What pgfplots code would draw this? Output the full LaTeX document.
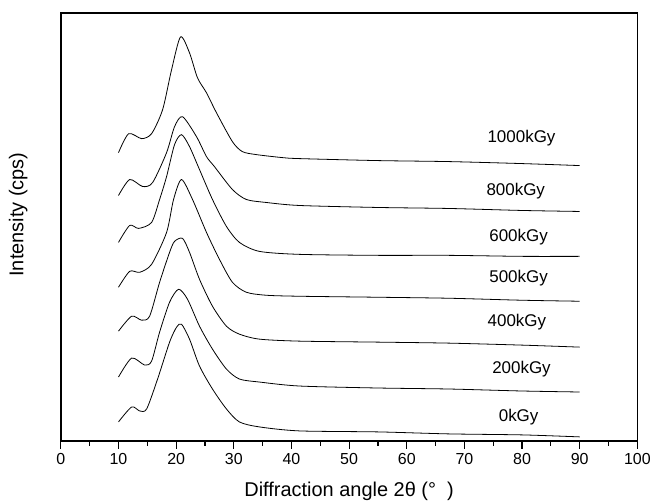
\documentclass[border=0pt]{standalone}
\usepackage{pgfplots}
\pgfplotsset{compat=1.18}
\usepackage{fontspec}
\setmainfont{Liberation Sans}
\begin{document}
\begin{tikzpicture}
\useasboundingbox (-45.75pt,-46.5pt) rectangle (443pt,331.5pt);
\begin{axis}[
  scale only axis,
  width=433.5pt, height=321.75pt,
  xmin=0, xmax=100, ymin=0, ymax=429,
  xtick={0,10,...,100},
  minor xtick={5,15,...,95},
  ytick=\empty,
  xtick pos=bottom,
  tick align=outside,
  major tick length=6pt,
  minor tick length=3.5pt,
  every tick/.style={black, line width=0.9pt},
  axis line style={line width=1.1pt},
  /pgf/number format/assume math mode=true,
  tick label style={font=\fontsize{12}{14}\selectfont},
  xlabel={Diffraction angle 2θ (°\ \ )},
  ylabel={Intensity (cps)},
  label style={font=\fontsize{15}{18}\selectfont},
  x label style={at={(axis description cs:0.5,0)}, anchor=center, yshift=-38pt},
  y label style={at={(axis description cs:-0.074,0.529)}, anchor=center, rotate=0},
  cycle list={{black, solid, no markers}},
  every axis plot/.append style={line width=0.6pt, smooth, tension=0.45},
]
% 1000 kGy
\addplot coordinates {(10,289)(11.76,308)(14.01,303)(15.74,308)(17.65,332)(19.20,372)(20.76,405)(22.32,389)(23.70,364)(25.26,349)(26.99,329)(29.76,300)(31.49,290)(33.91,287)(38.41,284)(41.35,283)(55,281)(67.3,280)(80,278)(90,276)};
% 800 kGy
\addplot coordinates {(10,246)(11.94,262)(14.19,255)(15.92,259)(18.34,289)(19.72,315)(21.11,325)(23.53,305)(25.26,285)(26.64,275)(29.76,252)(32.18,242)(35.64,239)(41.35,236)(55,234)(67.3,233)(80,231)(90,230)};
% 600 kGy
\addplot coordinates {(10,199)(11.94,216)(13.49,213)(15.74,219)(17.13,242)(18.34,265)(19.72,297)(20.93,307)(22.32,295)(24.05,272)(26.30,242)(28.72,215)(30.97,199)(34.43,190)(41.35,187)(55,186)(67.3,186)(80,185)(90,185)};
% 500 kGy
\addplot coordinates {(10,154)(11.94,170)(13.67,169)(15.74,177)(18.34,209)(19.55,242)(20.93,262)(22.84,242)(25.26,209)(27.51,182)(29.76,159)(32.18,149)(35.64,146)(41.35,145)(55,144)(67.3,143)(80,141)(90,140)};
% 400 kGy
\addplot coordinates {(10,110)(12.28,125)(14.01,121)(15.40,125)(17.13,159)(18.86,189)(19.72,200)(21.11,203)(22.32,189)(24.05,162)(26.30,135)(28.72,115)(30.97,107)(34.43,102)(41.35,100)(55,99)(67.3,98)(80,96)(90,94)};
% 200 kGy
\addplot coordinates {(10,64)(12.28,83)(14.53,76)(15.74,80)(17.13,109)(18.86,139)(20.42,152)(21.97,142)(24.05,115)(26.30,92)(28.72,72)(30.97,62)(34.43,59)(41.35,55)(55,53)(67.3,52)(80,50)(90,49)};
% 0 kGy
\addplot coordinates {(10,19)(12.28,34)(13.67,30)(14.88,32)(16.78,62)(18.86,99)(20.07,114)(20.93,117)(22.32,102)(24.05,75)(26.30,52)(28.72,32)(30.97,19)(34.43,14)(41.35,10)(55,9)(67.3,7)(80,6)(90,4)};
\begin{scope}[every node/.style={font=\fontsize{12.75}{15}\selectfont, anchor=center}]
\node at (axis cs:79.9,304) {1000kGy};
\node at (axis cs:78.9,250) {800kGy};
\node at (axis cs:79.4,204) {600kGy};
\node at (axis cs:79.4,163) {500kGy};
\node at (axis cs:79.1,119) {400kGy};
\node at (axis cs:79.9,72) {200kGy};
\node at (axis cs:79.4,24) {0kGy};
\end{scope}
\end{axis}
\end{tikzpicture}
\end{document}
